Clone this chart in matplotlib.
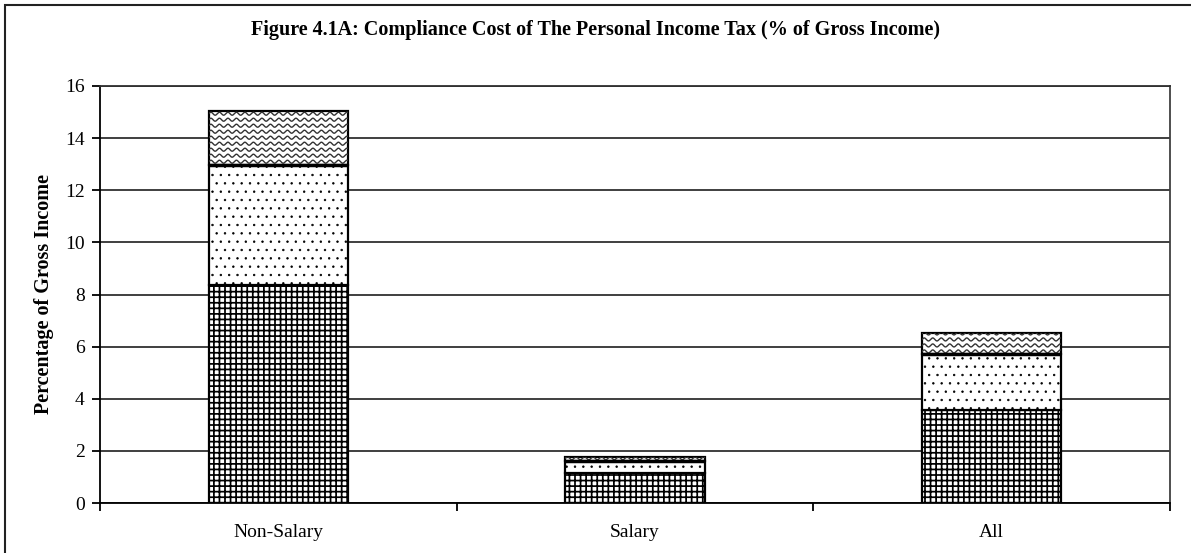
import numpy as np
import matplotlib
matplotlib.use("Agg")
import matplotlib.pyplot as plt
from matplotlib.patches import Rectangle

plt.rcParams['font.family'] = ['Liberation Serif', 'DejaVu Serif']

# data
categories = ["Non-Salary", "Salary", "All"]
seg_grid = [8.35, 1.15, 3.55]    # bottom segment (cross-hatched)
seg_dots = [4.63, 0.45, 2.15]    # middle segment (dotted)
seg_wave = [2.05, 0.15, 0.83]    # top segment (wavy)
yticks = [0, 2, 4, 6, 8, 10, 12, 14, 16]

title = "Figure 4.1A: Compliance Cost of The Personal Income Tax (% of Gross Income)"
ylabel = "Percentage of Gross Income"

W, H, DPI = 1191, 553, 100
fig = plt.figure(figsize=(W / DPI, H / DPI), dpi=DPI)
ax = fig.add_axes([100 / W, 1 - 503 / H, 1070 / W, 417 / H])

x = np.arange(len(categories))
bw = 0.39
ax.set_xlim(-0.5, len(categories) - 0.5)
ax.set_ylim(0, 16)


def hatch_lw(bars, lw):
    for b in bars:
        if hasattr(b, "set_hatch_linewidth"):
            b.set_hatch_linewidth(lw)


plt.rcParams['hatch.linewidth'] = 1.25
b1 = ax.bar(x, seg_grid, bw, color="white", edgecolor="black", lw=1.6,
            hatch="+++", zorder=3)
hatch_lw(b1, 1.25)
bot = np.array(seg_grid)
plt.rcParams['hatch.linewidth'] = 0.5
b2 = ax.bar(x, seg_dots, bw, bottom=bot, color="white", edgecolor="#333333",
            lw=1.6, hatch="..", zorder=3)
hatch_lw(b2, 0.5)
for b in b2:
    b.set_edgecolor("black")
bot = bot + np.array(seg_dots)
b3 = ax.bar(x, seg_wave, bw, bottom=bot, color="white", edgecolor="black",
            lw=1.6, zorder=3)


def wave_fill(rect, step=6.0, wl=8.5, amp=1.5):
    # wavy pattern drawn in pixel space, clipped to the bar
    (x0, y0), (x1, y1) = ax.transData.transform(
        [(rect.get_x(), rect.get_y()),
         (rect.get_x() + rect.get_width(), rect.get_y() + rect.get_height())])
    inv = ax.transData.inverted()
    xs = np.arange(x0, x1 + 1, 0.5)
    for yc in np.arange(y0 + step / 2, y1, step):
        ys = yc + amp * np.sin(2 * np.pi * (xs - x0) / wl)
        pts = inv.transform(np.column_stack([xs, ys]))
        ln, = ax.plot(pts[:, 0], pts[:, 1], color="#333333", lw=1.0,
                      zorder=3.5)
        ln.set_clip_path(rect)


for r in b3:
    wave_fill(r)
# thicker line where the wave segment sits on the dots
for r in b3:
    ax.plot([r.get_x(), r.get_x() + r.get_width()], [r.get_y()] * 2,
            color="black", lw=2.5, zorder=4, solid_capstyle="butt")

ax.set_yticks(yticks)
ax.yaxis.grid(True, color="#303030", lw=1.3, zorder=0)
ax.set_axisbelow(True)

ax.set_xticks(np.arange(-0.5, len(categories)), minor=False)
ax.set_xticklabels([])
ax.set_xticks(x, minor=True)
ax.set_xticklabels(categories, minor=True, fontsize=14)
ax.tick_params(axis="x", which="minor", length=0, pad=15)
ax.tick_params(axis="x", which="major", length=6, width=1.3)
ax.tick_params(axis="y", length=6, width=1.3, labelsize=14, pad=5)

for s in ["left", "bottom", "right", "top"]:
    ax.spines[s].set_linewidth(1.3)
    ax.spines[s].set_color("black")
ax.spines["right"].set_color("#404040")
ax.spines["top"].set_color("#303030")

ax.set_ylabel(ylabel, fontsize=14.5, fontweight="bold", labelpad=8)
fig.text(0.5, 1 - 30 / H, title, ha="center", va="center", fontsize=14.5,
         fontweight="bold")

# chart border (cut off at right and bottom in the reference)
fig.add_artist(Rectangle((5 / W, -0.1), 1.2, 1.1 - 4.5 / H, fill=False,
                         lw=1.5, edgecolor="#222222",
                         transform=fig.transFigure))

fig.savefig("out.png", dpi=DPI)
